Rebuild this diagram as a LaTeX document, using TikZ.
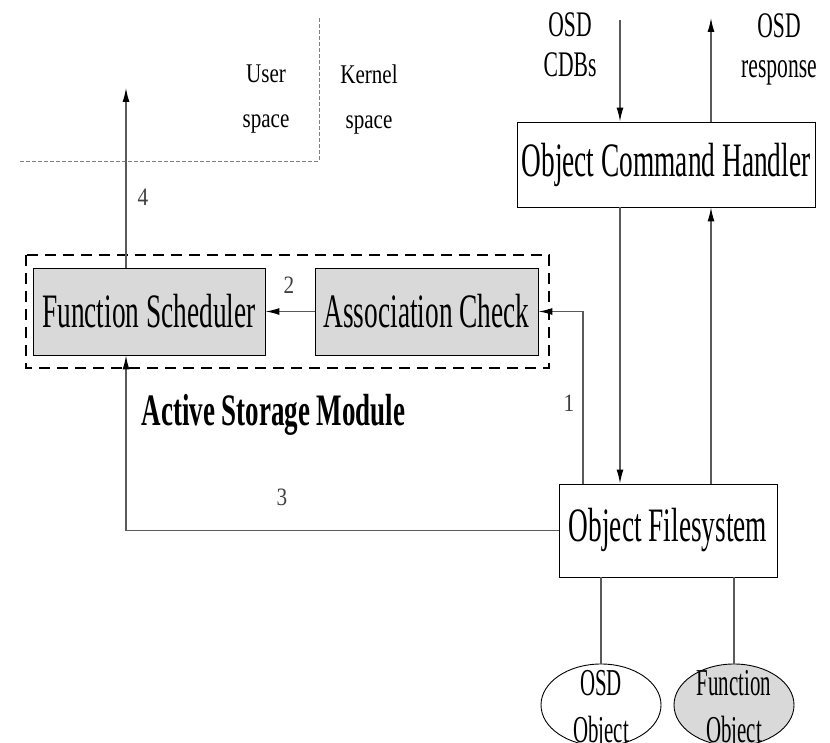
\documentclass[tikz,border=0pt]{standalone}
\usepackage{fontspec}
\setmainfont{Liberation Serif}
\newfontfamily\boxfont[FakeStretch=0.57]{Liberation Serif}
\newfontfamily\labfont[FakeStretch=0.60]{Liberation Serif}
\newfontfamily\spacefont[FakeStretch=0.78]{Liberation Serif}
\newfontfamily\ellfont[FakeStretch=0.55]{Liberation Serif}
\newfontfamily\numfont[FakeStretch=0.85]{Liberation Serif}
\newfontfamily\modfont[FakeStretch=0.60]{Liberation Serif}
\usetikzlibrary{arrows.meta,calc,shapes.geometric}
\definecolor{boxgray}{HTML}{D9D9D9}
\definecolor{linegray}{HTML}{5A5A5A}
\tikzset{
  unitbox/.style={draw=black, line width=0.9pt, inner sep=0pt,
    font=\boxfont\fontsize{48}{52}\selectfont},
  shadedbox/.style={unitbox, fill=boxgray},
  objell/.style={ellipse, draw=black, line width=0.9pt, inner sep=0pt,
    minimum width=120pt, minimum height=82pt},
  elltext/.style={inner sep=0pt, align=center,
    font=\ellfont\fontsize{38}{47}\selectfont},
  conn/.style={draw=linegray, line width=1.3pt},
  arr/.style={conn, -{Latex[length=14pt,width=7pt,color=black]}},
  lab/.style={inner sep=0pt, align=center, font=\labfont\fontsize{36}{40}\selectfont},
  spacelab/.style={inner sep=0pt, align=center, font=\spacefont\fontsize{27}{45}\selectfont},
  num/.style={inner sep=0pt, font=\numfont\fontsize{25}{30}\selectfont, text=black!75},
  divider/.style={draw=gray, line width=0.8pt, dash pattern=on 4pt off 2pt},
  modframe/.style={draw=black, line width=2.8pt, dash pattern=on 11pt off 7pt}
}
\begin{document}
\begin{tikzpicture}[x=1pt,y=-1pt]
\useasboundingbox (0,0) rectangle (830,743);

% user / kernel divider
\coordinate (dl) at (20,161);
\coordinate (dc) at (319,161);
\coordinate (dt) at (319,17);
\draw[divider] (dl) -- (dc) -- (dt);
\node[spacelab] (user) at (266,99.5) {User\\space};
\node[spacelab] (kernel) at (369,99.5) {Kernel\\space};

% active storage module
\draw[modframe] (26,255) rectangle (549,368);
\node[shadedbox, minimum width=232pt, minimum height=87pt] (fs) at (149,311.5) {Function Scheduler};
\node[shadedbox, minimum width=223pt, minimum height=87pt] (ac) at (426.5,311.5) {Association Check};
\node[anchor=base, inner sep=0pt, font=\modfont\bfseries\fontsize{45}{50}\selectfont] (asm) at (273.5,425) {Active Storage Module};

% command handler and filesystem
\node[unitbox, fill=white, minimum width=298pt, minimum height=85pt] (och) at (666,164.5) {Object Command Handler};
\node[unitbox, fill=white, minimum width=218pt, minimum height=93pt] (ofs) at (668,530.5) {Object Filesystem};

% stored objects
\node[objell, fill=white] (osdobj) at (601,705) {};
\node[elltext] (osdtxt) at (osdobj.center) {\rule{0pt}{36pt}OSD\\Object};
\node[objell, fill=boxgray] (fnobj) at (734,705) {};
\node[elltext] (fntxt) at (fnobj.center) {\rule{0pt}{36pt}Function\\Object};

% external command / response
\coordinate (cdb) at (620,20);
\coordinate (rsp) at (711,18);
\node[lab] (cdblab) at (570,45) {OSD\\CDBs};
\node[lab] (rsplab) at (779,49) {OSD\\response};
\draw[arr] (cdb) -- (och.north -| cdb);
\draw[arr] (och.north -| rsp) -- (rsp);
\draw[arr] (och.south -| cdb) -- (ofs.north -| cdb);
\draw[arr] (ofs.north -| rsp) -- (och.south -| rsp);

% filesystem to objects
\draw[conn] (osdobj.north |- ofs.south) -- (osdobj.north);
\draw[conn] (fnobj.north |- ofs.south) -- (fnobj.north);

% numbered flows
\coordinate (up1) at (583,484);
\draw[arr] (up1) |- (ac.east);
\node[num] (n1) at (569,403) {1};
\draw[arr] (ac.west) -- (fs.east);
\node[num] (n2) at (289,285) {2};
\coordinate (col) at (126,0);
\draw[arr] (ofs.west) -| (fs.south -| col);
\node[num] (n3) at (282,497) {3};
\coordinate (top4) at (126,88);
\draw[arr] (fs.north -| col) -- (top4);
\node[num] (n4) at (143,197) {4};
\end{tikzpicture}
\end{document}
